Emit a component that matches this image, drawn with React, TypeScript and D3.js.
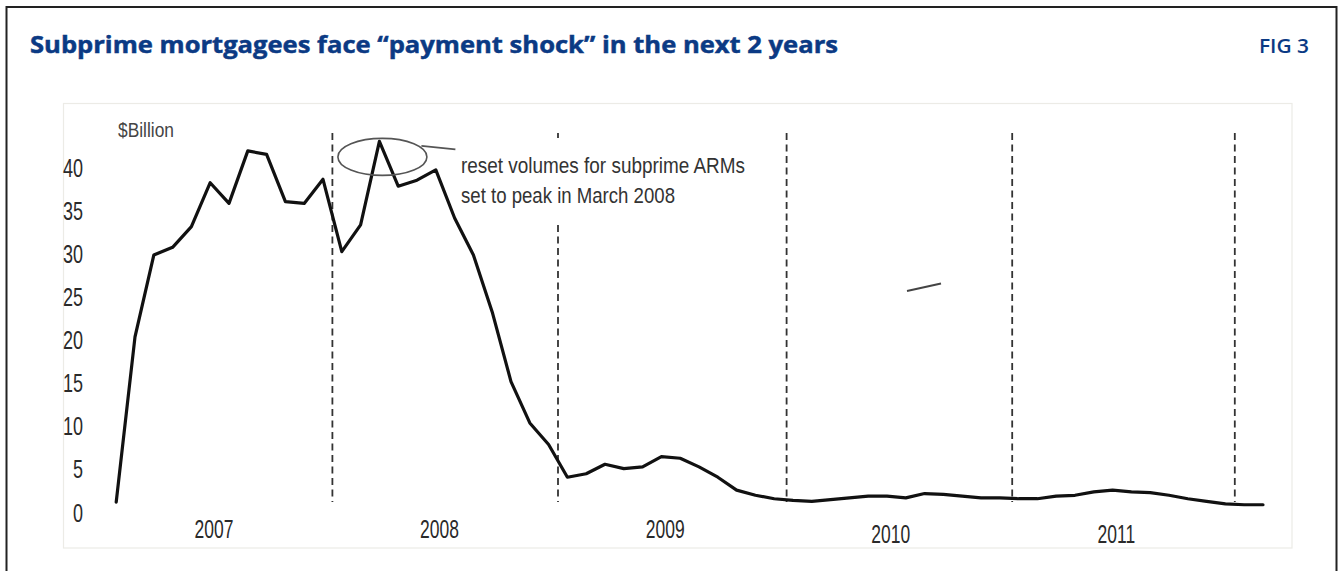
import React from "react";
import * as d3 from "d3";

// Monthly reset volumes, Jan 2007 – Feb 2012 ($ billion)
const values: number[] = [
  1.2, 20.4, 29.9, 30.8, 33.2, 38.3, 35.9, 42.0, 41.6, 36.1, 35.9, 38.7,
  30.3, 33.4, 43.1, 37.9, 38.6, 39.8, 34.2, 29.9, 23.3, 15.2, 10.4, 7.9,
  4.1, 4.5, 5.6, 5.1, 5.3, 6.5, 6.3, 5.3, 4.1, 2.6, 2.0, 1.6,
  1.4, 1.3, 1.5, 1.7, 1.9, 1.9, 1.7, 2.2, 2.1, 1.9, 1.7, 1.7,
  1.6, 1.6, 1.9, 2.0, 2.4, 2.6, 2.4, 2.3, 2.0, 1.6, 1.3, 1.0,
  0.9, 0.9,
];
const years: string[] = ["2007", "2008", "2009", "2010", "2011"];
const yTicks: number[] = [0, 5, 10, 15, 20, 25, 30, 35, 40];
const title = "Subprime mortgagees face \u201cpayment shock\u201d in the next 2 years";
const figLabel = "FIG 3";
const unitLabel = "$Billion";
const noteLines: string[] = ["reset volumes for subprime ARMs", "set to peak in March 2008"];
const peakIndex = 14;

const W = 1340;
const H = 571;
const NAVY = "#0b3a84";
const NARROW = "'Liberation Sans', Arial, sans-serif";

export default function App() {
  const x = d3.scaleLinear().domain([0, 61]).range([116.2, 116.2 + 61 * 18.8]);
  const y = d3.scaleLinear().domain([0, 40]).range([512.5, 168.1]);
  const line = d3
    .line<number>()
    .x((_, i) => x(i))
    .y((d) => y(d))
    .curve(d3.curveLinear);

  const px = x(peakIndex);
  const py = y(values[peakIndex]);

  return (
    <svg
      width={W}
      height={H}
      viewBox={`0 0 ${W} ${H}`}
      style={{ position: "absolute", left: 0, top: 0, background: "#fff" }}
    >
      <rect x={0} y={0} width={W} height={H} fill="#fff" />
      {/* outer frame (open at bottom) */}
      <path d={`M6.5,${H} L6.5,7 L1336.5,7 L1336.5,${H}`} fill="none" stroke="#222" strokeWidth={2} />

      {/* title */}
      <text
        x={30}
        y={53}
        fill={NAVY}
        stroke={NAVY}
        strokeWidth={0.5}
        fontFamily="'Open Sans', 'Liberation Sans', sans-serif"
        fontWeight={700}
        fontSize={24}
        textLength={808}
        lengthAdjust="spacingAndGlyphs"
      >
        {title}
      </text>
      <text
        x={1259}
        y={53}
        fill={NAVY}
        fontFamily="'Open Sans', 'Liberation Sans', sans-serif"
        fontWeight={600}
        fontSize={19}
        textLength={50}
        lengthAdjust="spacingAndGlyphs"
      >
        {figLabel}
      </text>

      {/* plot frame */}
      <rect x={63.5} y={103.5} width={1228.5} height={444.5} fill="#fff" stroke="#ecebe6" strokeWidth={1.2} />

      {/* $Billion */}
      <text
        x={118}
        y={137}
        fill="#444"
        fontFamily={NARROW}
        fontSize={20}
        textLength={56}
        lengthAdjust="spacingAndGlyphs"
      >
        {unitLabel}
      </text>

      {/* y tick labels */}
      {yTicks.map((t) => (
        <text
          key={t}
          transform={`translate(83,${y(t)}) scale(0.72,1)`}
          textAnchor="end"
          dy="0.36em"
          fill="#2a2a2a"
          fontFamily={NARROW}
          fontSize={25}
        >
          {t}
        </text>
      ))}

      {/* year separators */}
      {years.map((yr, k) => (
        <line
          key={"sep" + yr}
          x1={x(12 * k + 11.5) + (k === 2 || k === 3 ? 3 : 0)}
          x2={x(12 * k + 11.5) + (k === 2 || k === 3 ? 3 : 0)}
          y1={133}
          y2={502}
          stroke="#333"
          strokeWidth={1.8}
          strokeDasharray="7,4.5"
        />
      ))}

      {/* year labels */}
      {years.map((yr, k) => (
        <text
          key={yr}
          transform={`translate(${x(12 * k + 5.2)},${k < 3 ? 529 : 534}) scale(0.7,1)`}
          textAnchor="middle"
          dy="0.36em"
          fill="#2a2a2a"
          fontFamily={NARROW}
          fontSize={25}
        >
          {yr}
        </text>
      ))}

      {/* annotation background */}
      <rect x={458} y={138} width={294} height={83} fill="#fff" />

      {/* stray mark */}
      <line x1={907} y1={291} x2={941} y2={283.5} stroke="#444" strokeWidth={2} />

      {/* data line */}
      <path
        d={line(values) || ""}
        fill="none"
        stroke="#111"
        strokeWidth={3.2}
        strokeLinejoin="round"
        strokeLinecap="round"
      />

      {/* annotation */}
      <ellipse cx={px + 3} cy={py + 15.5} rx={44.5} ry={18.5} fill="none" stroke="#555" strokeWidth={1.6} />
      <line x1={px + 42} y1={py + 4.5} x2={px + 76} y2={py + 8} stroke="#555" strokeWidth={1.6} />
      {noteLines.map((t, i) => (
        <text
          key={i}
          x={461}
          y={173 + i * 30}
          fill="#333"
          fontFamily={NARROW}
          fontSize={22}
          textLength={i === 0 ? 284 : 214}
          lengthAdjust="spacingAndGlyphs"
        >
          {t}
        </text>
      ))}
    </svg>
  );
}
